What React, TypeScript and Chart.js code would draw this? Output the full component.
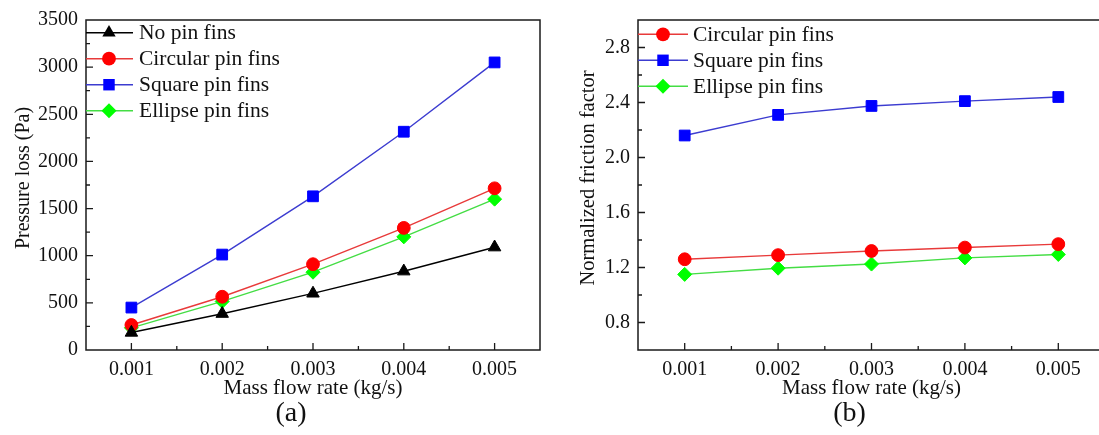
import React, { useEffect, useRef } from 'react';
import { Chart, registerables } from 'chart.js';

Chart.register(...registerables);

// Mass flow rate (kg/s)
const massFlow = [0.001, 0.002, 0.003, 0.004, 0.005];

// Panel (a): pressure loss (Pa)
const lossNoPin = [185, 385, 600, 835, 1090];
const lossCircular = [265, 565, 910, 1295, 1715];
const lossSquare = [450, 1012, 1630, 2315, 3050];
const lossEllipse = [235, 515, 825, 1200, 1600];

// Panel (b): normalized friction factor
const frictionCircular = [1.26, 1.29, 1.32, 1.345, 1.37];
const frictionSquare = [2.16, 2.31, 2.375, 2.41, 2.44];
const frictionEllipse = [1.15, 1.195, 1.225, 1.27, 1.295];

const xTickLabels = ['0.001', '0.002', '0.003', '0.004', '0.005'];
const lossTickLabels = ['0', '500', '1000', '1500', '2000', '2500', '3000', '3500'];
const frictionTickLabels = ['0.8', '1.2', '1.6', '2.0', '2.4', '2.8'];

const SERIF = "'Liberation Serif', 'DejaVu Serif', serif";

type SeriesStyle = {
  label: string;
  line: string;
  fill: string;
  pointStyle: 'triangle' | 'circle' | 'rect' | 'rectRot';
  radius: number;
};

const noPinStyle: SeriesStyle = { label: 'No pin fins', line: '#000000', fill: '#000000', pointStyle: 'triangle', radius: 7.2 };
const circularStyle: SeriesStyle = { label: 'Circular pin fins', line: '#e83a3a', fill: '#ff0000', pointStyle: 'circle', radius: 6.4 };
const squareStyle: SeriesStyle = { label: 'Square pin fins', line: '#3c3cd0', fill: '#0000ff', pointStyle: 'rect', radius: 7.6 };
const ellipseStyle: SeriesStyle = { label: 'Ellipse pin fins', line: '#44dd44', fill: '#00ff00', pointStyle: 'rectRot', radius: 7 };

function makeDataset(style: SeriesStyle, values: number[]) {
  return {
    label: style.label,
    data: massFlow.map((x, i) => ({ x, y: values[i] })),
    borderColor: style.line,
    backgroundColor: style.fill,
    pointBackgroundColor: style.fill,
    pointBorderColor: style.fill,
    pointBorderWidth: 1,
    pointStyle: style.pointStyle,
    pointRadius: style.radius,
    borderWidth: 1.4,
    tension: 0,
  };
}

function drawMarker(ctx: CanvasRenderingContext2D, style: string, x: number, y: number, r: number, color: string) {
  ctx.save();
  ctx.fillStyle = color;
  ctx.beginPath();
  if (style === 'circle') {
    ctx.arc(x, y, r, 0, Math.PI * 2);
  } else if (style === 'rect') {
    const s = r * Math.SQRT1_2;
    ctx.rect(x - s, y - s, 2 * s, 2 * s);
  } else if (style === 'rectRot') {
    ctx.moveTo(x, y - r);
    ctx.lineTo(x + r, y);
    ctx.lineTo(x, y + r);
    ctx.lineTo(x - r, y);
    ctx.closePath();
  } else {
    const a = (2 * Math.PI) / 3;
    ctx.moveTo(x, y - r);
    ctx.lineTo(x + Math.sin(a) * r, y - Math.cos(a) * r);
    ctx.lineTo(x + Math.sin(2 * a) * r, y - Math.cos(2 * a) * r);
    ctx.closePath();
  }
  ctx.fill();
  ctx.restore();
}

type PanelOptions = {
  yTitle: string;
  yTitleOffset: number;
  yTitleSize: number;
  panelLabel: string;
  legendTop: number;
  legendLine: number;
  legendMarker: number;
  legendText: number;
  styles: SeriesStyle[];
  isMajorY: (v: number) => boolean;
  isMajorX: (v: number) => boolean;
};

// Frame, inward ticks, legend, axis titles and panel label
const panelDecor = {
  id: 'panelDecor',
  afterDraw(chart: any, _args: any, opts: PanelOptions) {
    const ctx: CanvasRenderingContext2D = chart.ctx;
    const { left, right, top, bottom } = chart.chartArea;
    const xs = chart.scales.x;
    const ys = chart.scales.y;
    ctx.save();
    ctx.strokeStyle = '#1a1a1a';
    ctx.lineWidth = 1.5;
    ctx.strokeRect(left, top, right - left, bottom - top);

    ctx.lineWidth = 1.3;
    ctx.beginPath();
    xs.ticks.forEach((t: any) => {
      if (t.value <= xs.min + 1e-9 || t.value >= xs.max - 1e-9) return;
      const px = xs.getPixelForValue(t.value);
      const len = opts.isMajorX(t.value) ? 7 : 4;
      ctx.moveTo(px, bottom);
      ctx.lineTo(px, bottom - len);
    });
    ys.ticks.forEach((t: any) => {
      if (t.value <= ys.min + 1e-9 || t.value >= ys.max - 1e-9) return;
      const py = ys.getPixelForValue(t.value);
      const len = opts.isMajorY(t.value) ? 7 : 4;
      ctx.moveTo(left, py);
      ctx.lineTo(left + len, py);
    });
    ctx.stroke();

    // legend
    ctx.font = `21.5px ${SERIF}`;
    ctx.textBaseline = 'middle';
    ctx.textAlign = 'left';
    opts.styles.forEach((s, i) => {
      const y = top + opts.legendTop + i * 26;
      ctx.strokeStyle = s.line;
      ctx.lineWidth = 1.4;
      ctx.beginPath();
      ctx.moveTo(left, y);
      ctx.lineTo(left + opts.legendLine, y);
      ctx.stroke();
      drawMarker(ctx, s.pointStyle, left + opts.legendMarker, y, s.radius + 0.5, s.fill);
      ctx.fillStyle = '#111111';
      ctx.fillText(s.label, left + opts.legendText, y + 1);
    });

    // axis titles
    ctx.fillStyle = '#111111';
    ctx.font = `21px ${SERIF}`;
    ctx.textAlign = 'center';
    ctx.textBaseline = 'middle';
    const cx = (left + right) / 2;
    ctx.fillText('Mass flow rate (kg/s)', cx, bottom + 38);
    ctx.save();
    ctx.font = `${opts.yTitleSize}px ${SERIF}`;
    ctx.translate(left - opts.yTitleOffset, (top + bottom) / 2 - 7);
    ctx.rotate(-Math.PI / 2);
    ctx.fillText(opts.yTitle, 0, 0);
    ctx.restore();

    ctx.font = `28px ${SERIF}`;
    ctx.fillText(opts.panelLabel, cx - 22, bottom + 64);
    ctx.restore();
  },
};

function xTick(v: number) {
  const k = Math.round(v * 2000);
  if (k % 2 !== 0) return '';
  const idx = k / 2 - 1;
  return xTickLabels[idx] ?? '';
}

function buildConfig(
  datasets: any[],
  yMin: number,
  yMax: number,
  yStep: number,
  yLabel: (v: number) => string,
  yAxisWidth: number,
  rightPad: number,
  decor: PanelOptions
): any {
  return {
    type: 'line',
    data: { datasets },
    plugins: [panelDecor],
    options: {
      animation: false,
      responsive: false,
      layout: { padding: { top: 18, right: rightPad, left: 0, bottom: 0 } },
      plugins: {
        legend: { display: false },
        tooltip: { enabled: false },
        panelDecor: decor,
      },
      scales: {
        x: {
          type: 'linear',
          min: 0.0005,
          max: 0.0055,
          afterFit: (scale: any) => {
            scale.height = 85;
          },
          grid: { display: false, drawTicks: false },
          border: { display: false },
          ticks: {
            stepSize: 0.0005,
            autoSkip: false,
            maxRotation: 0,
            padding: 8,
            color: '#111111',
            font: { family: SERIF, size: 20 },
            callback: (v: number) => xTick(v),
          },
        },
        y: {
          type: 'linear',
          min: yMin,
          max: yMax,
          afterFit: (scale: any) => {
            scale.width = yAxisWidth;
          },
          grid: { display: false, drawTicks: false },
          border: { display: false },
          ticks: {
            stepSize: yStep,
            autoSkip: false,
            padding: 8,
            color: '#111111',
            font: { family: SERIF, size: 20 },
            callback: (v: number) => yLabel(v),
          },
        },
      },
    },
  };
}

function PressurePanel() {
  const ref = useRef<HTMLCanvasElement | null>(null);
  useEffect(() => {
    if (!ref.current) return;
    const styles = [noPinStyle, circularStyle, squareStyle, ellipseStyle];
    const chart = new Chart(
      ref.current,
      buildConfig(
        [
          makeDataset(noPinStyle, lossNoPin),
          makeDataset(circularStyle, lossCircular),
          makeDataset(squareStyle, lossSquare),
          makeDataset(ellipseStyle, lossEllipse),
        ],
        0,
        3500,
        250,
        (v) => {
          const k = Math.round(v / 500);
          return Math.abs(v - k * 500) < 1e-6 ? lossTickLabels[k] ?? '' : '';
        },
        86,
        20,
        {
          yTitle: 'Pressure loss (Pa)',
          yTitleOffset: 62,
          yTitleSize: 20,
          panelLabel: '(a)',
          legendTop: 12.7,
          legendLine: 47,
          legendMarker: 23,
          legendText: 53,
          styles,
          isMajorY: (v) => Math.abs(v / 500 - Math.round(v / 500)) < 1e-6,
          isMajorX: (v) => Math.round(v * 2000) % 2 === 0,
        }
      )
    );
    return () => chart.destroy();
  }, []);
  return <canvas ref={ref} width={560} height={435} style={{ position: 'absolute', left: 0, top: 0 }} />;
}

function FrictionPanel() {
  const ref = useRef<HTMLCanvasElement | null>(null);
  useEffect(() => {
    if (!ref.current) return;
    const styles = [circularStyle, squareStyle, ellipseStyle];
    const chart = new Chart(
      ref.current,
      buildConfig(
        [
          makeDataset(circularStyle, frictionCircular),
          makeDataset(squareStyle, frictionSquare),
          makeDataset(ellipseStyle, frictionEllipse),
        ],
        0.6,
        3.0,
        0.2,
        (v) => {
          const k = Math.round(v * 10);
          if (k % 4 !== 0 || k < 8 || k > 28) return '';
          return frictionTickLabels[(k - 8) / 4] ?? '';
        },
        78,
        15,
        {
          yTitle: 'Normalized friction factor',
          yTitleOffset: 49,
          yTitleSize: 20.5,
          panelLabel: '(b)',
          legendTop: 14.3,
          legendLine: 50,
          legendMarker: 25,
          legendText: 55,
          styles,
          isMajorY: (v) => Math.round(v * 10) % 4 === 0,
          isMajorX: (v) => Math.round(v * 2000) % 2 === 0,
        }
      )
    );
    return () => chart.destroy();
  }, []);
  return <canvas ref={ref} width={560} height={435} style={{ position: 'absolute', left: 560, top: 0 }} />;
}

export default function App() {
  return (
    <div
      style={{
        position: 'fixed',
        left: 0,
        top: 0,
        width: 1099,
        height: 435,
        overflow: 'hidden',
        background: '#ffffff',
      }}
    >
      <PressurePanel />
      <FrictionPanel />
    </div>
  );
}
